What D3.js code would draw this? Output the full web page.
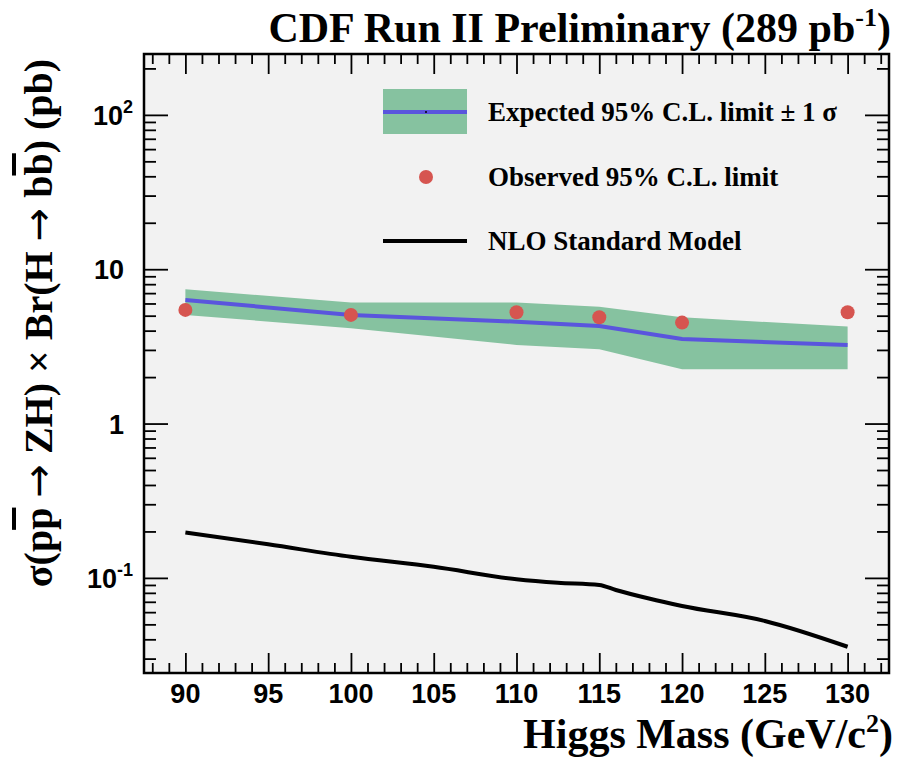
<!DOCTYPE html>
<html><head><meta charset="utf-8">
<script src="https://cdn.jsdelivr.net/npm/d3@7"></script>
<style>body{margin:0;background:#fff}</style>
</head><body><svg id="c" width="910" height="759"></svg>
<script>
// ---- data ----
const masses   = [90, 100, 110, 115, 120, 130];
const expected = [6.32, 5.06, 4.57, 4.29, 3.53, 3.23];
const bandLow  = [5.06, 4.14, 3.23, 3.03, 2.25, 2.25];
const bandHigh = [7.42, 6.08, 6.08, 5.72, 4.88, 4.25];
const observed = [5.45, 5.06, 5.26, 4.88, 4.51, 5.26];
const smMass   = [90, 95, 100, 105, 110, 112.5, 115, 116, 118, 120, 125, 130];
const smXsec   = [0.197, 0.165, 0.137, 0.118, 0.098, 0.093, 0.090, 0.0835, 0.0735, 0.0658, 0.0526, 0.0358];
const xTicks   = [90, 95, 100, 105, 110, 115, 120, 125, 130];
const yTicks   = [0.1, 1, 10, 100];
const yTickBase = ["10", "1", "10", "10"];
const yTickExp  = ["-1", "", "", "2"];
const xDomain  = [87.5, 132.5];
const yDomain  = [0.0242, 248];
const legendLabels = ["Expected 95% C.L. limit \u00B1 1 \u03C3", "Observed 95% C.L. limit", "NLO Standard Model"];

// ---- layout ----
const L = 144, R = 889, T = 54, B = 673;
const svg = d3.select("#c");
const x = d3.scaleLinear().domain(xDomain).range([L, R]);
const y = d3.scaleLog().domain(yDomain).range([B, T]);
const serif = "'Liberation Serif','Times New Roman',serif";
const sans = "'Liberation Sans',Arial,Helvetica,sans-serif";
const arrowFont = "'DejaVu Sans',sans-serif";
const GREEN = "#86c2a0", BLUE = "#5a55dd", RED = "#d65550";

svg.append("rect").attr("x", L).attr("y", T).attr("width", R - L).attr("height", B - T).attr("fill", "#f2f2f2");

svg.append("clipPath").attr("id", "clp").append("rect")
  .attr("x", L).attr("y", T).attr("width", R - L).attr("height", B - T);
const plot = svg.append("g").attr("clip-path", "url(#clp)");

// band
const idx = d3.range(masses.length);
plot.append("path")
  .attr("d", d3.area().x(i => x(masses[i])).y0(i => y(bandLow[i])).y1(i => y(bandHigh[i]))(idx))
  .attr("fill", GREEN);
// expected line
plot.append("path")
  .attr("d", d3.line().x(i => x(masses[i])).y(i => y(expected[i]))(idx))
  .attr("fill", "none").attr("stroke", BLUE).attr("stroke-width", 4);
// SM line
plot.append("path")
  .attr("d", d3.line().curve(d3.curveMonotoneX).x((d, i) => x(smMass[i])).y((d, i) => y(smXsec[i]))(smMass))
  .attr("fill", "none").attr("stroke", "#000").attr("stroke-width", 4);
// observed
plot.selectAll("circle.obs").data(idx).enter().append("circle")
  .attr("cx", i => x(masses[i])).attr("cy", i => y(observed[i])).attr("r", 7).attr("fill", RED);

// ---- axes (ticks inward on all four sides) ----
const xMinor = d3.range(88, 133).filter(v => !xTicks.includes(v));
const yMinor = [];
[0.01, 0.1, 1, 10, 100].forEach(d => { for (let k = 2; k <= 9; k++) { const v = d * k; if (v > yDomain[0] && v < yDomain[1]) yMinor.push(v); } });

function addAxis(axis, tr) {
  const g = svg.append("g").attr("transform", tr).call(axis);
  g.select(".domain").remove();
  g.selectAll("line").attr("stroke", "#000").attr("stroke-width", 1.8);
  g.selectAll("text").remove();
  return g;
}
addAxis(d3.axisBottom(x).tickValues(xTicks).tickSize(-20).tickFormat(""), `translate(0,${B})`);
addAxis(d3.axisBottom(x).tickValues(xMinor).tickSize(-10).tickFormat(""), `translate(0,${B})`);
addAxis(d3.axisTop(x).tickValues(xTicks).tickSize(-20).tickFormat(""), `translate(0,${T})`);
addAxis(d3.axisTop(x).tickValues(xMinor).tickSize(-10).tickFormat(""), `translate(0,${T})`);
addAxis(d3.axisLeft(y).tickValues(yTicks).tickSize(-24).tickFormat(""), `translate(${L},0)`);
addAxis(d3.axisLeft(y).tickValues(yMinor).tickSize(-12).tickFormat(""), `translate(${L},0)`);
addAxis(d3.axisRight(y).tickValues(yTicks).tickSize(-24).tickFormat(""), `translate(${R},0)`);
addAxis(d3.axisRight(y).tickValues(yMinor).tickSize(-12).tickFormat(""), `translate(${R},0)`);

svg.append("rect").attr("x", L).attr("y", T).attr("width", R - L).attr("height", B - T)
  .attr("fill", "none").attr("stroke", "#000").attr("stroke-width", 2.5);

// x tick labels
svg.selectAll("text.xt").data(xTicks).enter().append("text")
  .attr("x", d => x(d)).attr("y", 703).attr("text-anchor", "middle")
  .attr("font-family", sans).attr("font-weight", "bold").attr("font-size", 27)
  .text(d => d);

// y tick labels
yTicks.forEach((v, i) => {
  const t = svg.append("text").attr("y", y(v) + 10)
    .attr("font-family", sans).attr("font-weight", "bold").attr("font-size", 27)
    .attr("text-anchor", "end");
  t.append("tspan").text(yTickBase[i]);
  if (yTickExp[i]) {
    t.attr("x", 133);
    t.append("tspan").attr("dy", -12).attr("font-size", 18).text(yTickExp[i]);
  } else {
    t.attr("x", 124);
  }
});

// title
const title = svg.append("text").attr("x", 891).attr("y", 42).attr("text-anchor", "end")
  .attr("font-family", serif).attr("font-weight", "bold").attr("font-size", 42);
title.append("tspan").text("CDF Run II Preliminary (289 pb");
title.append("tspan").attr("dy", -16).attr("font-size", 26).text("-1");
title.append("tspan").attr("dy", 16).text(")");

// x label
const xl = svg.append("text").attr("x", 893).attr("y", 748).attr("text-anchor", "end")
  .attr("font-family", serif).attr("font-weight", "bold").attr("font-size", 42);
xl.append("tspan").text("Higgs Mass (GeV/c");
xl.append("tspan").attr("dy", -16).attr("font-size", 26).text("2");
xl.append("tspan").attr("dy", 16).text(")");

// y label
const yl = svg.append("text").attr("transform", "translate(52,323) rotate(-90)").attr("text-anchor", "middle")
  .attr("font-family", serif).attr("font-weight", "bold").attr("font-size", 40);
yl.append("tspan").text("\u03C3(p");
yl.append("tspan").style("text-decoration", "overline").text("p");
yl.append("tspan").text(" ");
yl.append("tspan").attr("font-family", arrowFont).attr("font-weight", "normal").text("\u2192");
yl.append("tspan").text(" ZH) \u00D7 Br(H ");
yl.append("tspan").attr("font-family", arrowFont).attr("font-weight", "normal").text("\u2192");
yl.append("tspan").text(" b");
yl.append("tspan").style("text-decoration", "overline").text("b");
yl.append("tspan").text(") (pb)");

// legend
svg.append("rect").attr("x", 383).attr("y", 89).attr("width", 84).attr("height", 45).attr("fill", GREEN);
svg.append("line").attr("x1", 383).attr("x2", 467).attr("y1", 112).attr("y2", 112).attr("stroke", BLUE).attr("stroke-width", 4);
svg.append("circle").attr("cx", 426).attr("cy", 112).attr("r", 1).attr("fill", "#000");
svg.append("circle").attr("cx", 426).attr("cy", 177).attr("r", 7).attr("fill", RED);
svg.append("line").attr("x1", 383).attr("x2", 467).attr("y1", 241).attr("y2", 241).attr("stroke", "#000").attr("stroke-width", 4);
[121, 186, 250].forEach((yy, i) => {
  svg.append("text").attr("x", 488).attr("y", yy)
    .attr("font-family", serif).attr("font-weight", "bold").attr("font-size", 27)
    .text(legendLabels[i]);
});
</script></body></html>
